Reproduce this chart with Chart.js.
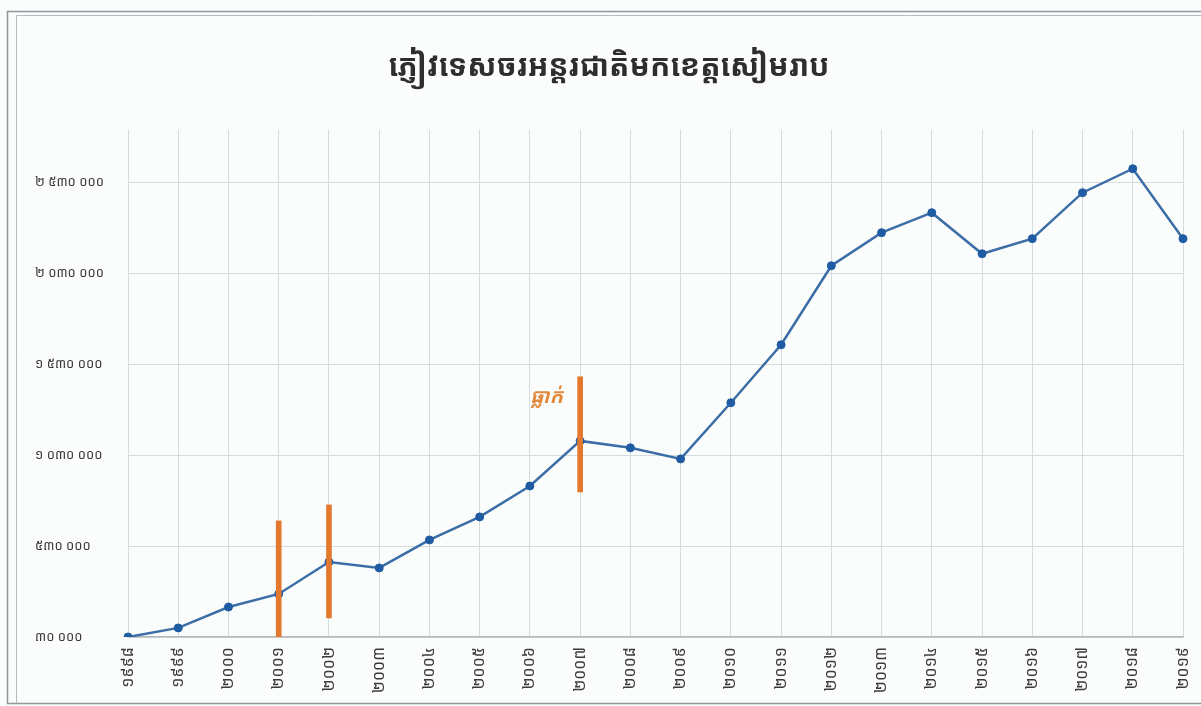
<!DOCTYPE html>
<html>
<head>
<meta charset="utf-8">
<script src="https://cdn.jsdelivr.net/npm/chart.js@4/dist/chart.umd.min.js"></script>
<style>
html,body{margin:0;padding:0;background:#fbfcfc;}
#wrap{width:1201px;height:706px;position:relative;}
</style>
</head>
<body>
<div id="wrap"><canvas id="c" width="1201" height="706"></canvas></div>
<script>
const chartTitle = 'ភ្ញៀវទេសចរអន្តរជាតិមកខេត្តសៀមរាប';
const categories = ['១៩៩៨','១៩៩៩','២០០០','២០០១','២០០២','២០០៣','២០០៤','២០០៥','២០០៦','២០០៧','២០០៨',
                    '២០០៩','២០១០','២០១១','២០១២','២០១៣','២០១៤','២០១៥','២០១៦','២០១៧','២០១៨','២០១៩'];
const visitors = [30000, 80000, 195000, 267000, 443000, 410000, 564000, 691000, 861000, 1109000, 1071000,
                  1010000, 1319000, 1638000, 2073000, 2255000, 2365000, 2139000, 2222000, 2475000, 2607000, 2222000];
const yTickValues = [30000, 530000, 1030000, 1530000, 2030000, 2530000];
const yTickLabels = ['៣០ ០០០', '៥៣០ ០០០', '១ ០៣០ ០០០', '១ ៥៣០ ០០០', '២ ០៣០ ០០០', '២ ៥៣០ ០០០'];
const yMin = 30000;
const yMax = 2820000;
const dropYears = ['២០០១', '២០០២', '២០០៧'];
const dropRanges = [[30000, 669000], [135000, 757000], [828000, 1462000]];
const dropLabel = 'ធ្លាក់';
const dropLabelYear = '២០០៧';
const dropLabelValue = 1350000;

const KHMER = "'Khmer OS', 'Khmer OS System', 'Noto Sans Khmer', 'Noto Serif Khmer', 'Hanuman', 'Battambang', 'DejaVu Sans', sans-serif";

const dropData = categories.map(c => {
  const i = dropYears.indexOf(c);
  return i < 0 ? null : dropRanges[i];
});

const framePlugin = {
  id: 'frame',
  beforeDraw(chart) {
    const ctx = chart.ctx;
    ctx.save();
    ctx.fillStyle = '#fbfcfc';
    ctx.fillRect(0, 0, chart.width, chart.height);
    ctx.strokeStyle = '#8e979b';
    ctx.lineWidth = 1.5;
    ctx.strokeRect(7.5, 11.5, 1220, 692);
    ctx.strokeStyle = '#b4bcbf';
    ctx.lineWidth = 1;
    ctx.beginPath();
    ctx.moveTo(16.5, 703); ctx.lineTo(16.5, 15.5); ctx.lineTo(1220, 15.5);
    ctx.stroke();
    ctx.restore();
  }
};

const dropTextPlugin = {
  id: 'dropText',
  afterDatasetsDraw(chart) {
    const ctx = chart.ctx;
    const xs = chart.scales.x, ys = chart.scales.y;
    const x = xs.getPixelForValue(categories.indexOf(dropLabelYear)) - 17;
    const y = ys.getPixelForValue(dropLabelValue);
    ctx.save();
    ctx.font = 'italic bold 20px ' + KHMER;
    ctx.fillStyle = '#e28a3a';
    ctx.textAlign = 'right';
    ctx.textBaseline = 'middle';
    ctx.fillText(dropLabel, x, y);
    ctx.restore();
  }
};

new Chart(document.getElementById('c'), {
  type: 'bar',
  data: {
    labels: categories,
    datasets: [
      {
        type: 'bar',
        data: dropData,
        backgroundColor: '#e2792c',
        borderWidth: 0,
        barThickness: 5,
        order: 0
      },
      {
        type: 'line',
        data: visitors,
        borderColor: '#3b6ea6',
        borderWidth: 2.5,
        pointRadius: 4,
        pointBackgroundColor: '#1f5ca3',
        pointBorderColor: '#1f5ca3',
        pointBorderWidth: 1,
        tension: 0,
        fill: false,
        order: 1
      }
    ]
  },
  options: {
    responsive: false,
    animation: false,
    devicePixelRatio: 1,
    layout: { padding: { left: 35, right: 18, top: 0, bottom: 0 } },
    plugins: {
      legend: { display: false },
      tooltip: { enabled: false },
      title: {
        display: true,
        text: chartTitle,
        color: '#2e2e2e',
        font: { family: KHMER, size: 30, weight: 'bold', lineHeight: 1.2 },
        padding: { top: 49, bottom: 45 }
      }
    },
    scales: {
      x: {
        offset: false,
        grid: { color: '#d6dbdd', lineWidth: 1, drawTicks: false, offset: false },
        border: { color: '#b3b9bc', width: 1.5 },
        ticks: {
          color: '#3a3a3a',
          font: { family: KHMER, size: 16 },
          minRotation: 90,
          maxRotation: 90,
          autoSkip: false,
          padding: 10
        },
        afterFit(scale) { scale.height = 69; scale.paddingLeft = 0; scale.paddingRight = 0; }
      },
      y: {
        min: yMin,
        max: yMax,
        grid: { color: '#d6dbdd', lineWidth: 1, drawTicks: false },
        border: { display: false },
        afterBuildTicks(scale) { scale.ticks = yTickValues.map(v => ({ value: v })); },
        afterFit(scale) { scale.width = 93; scale.paddingTop = 0; scale.paddingBottom = 0; },
        ticks: {
          crossAlign: 'far',
          color: '#3a3a3a',
          font: { family: KHMER, size: 13 },
          callback(value) {
            const i = yTickValues.indexOf(value);
            return i < 0 ? '' : yTickLabels[i];
          }
        }
      }
    }
  },
  plugins: [framePlugin, dropTextPlugin]
});
</script>
</body>
</html>
